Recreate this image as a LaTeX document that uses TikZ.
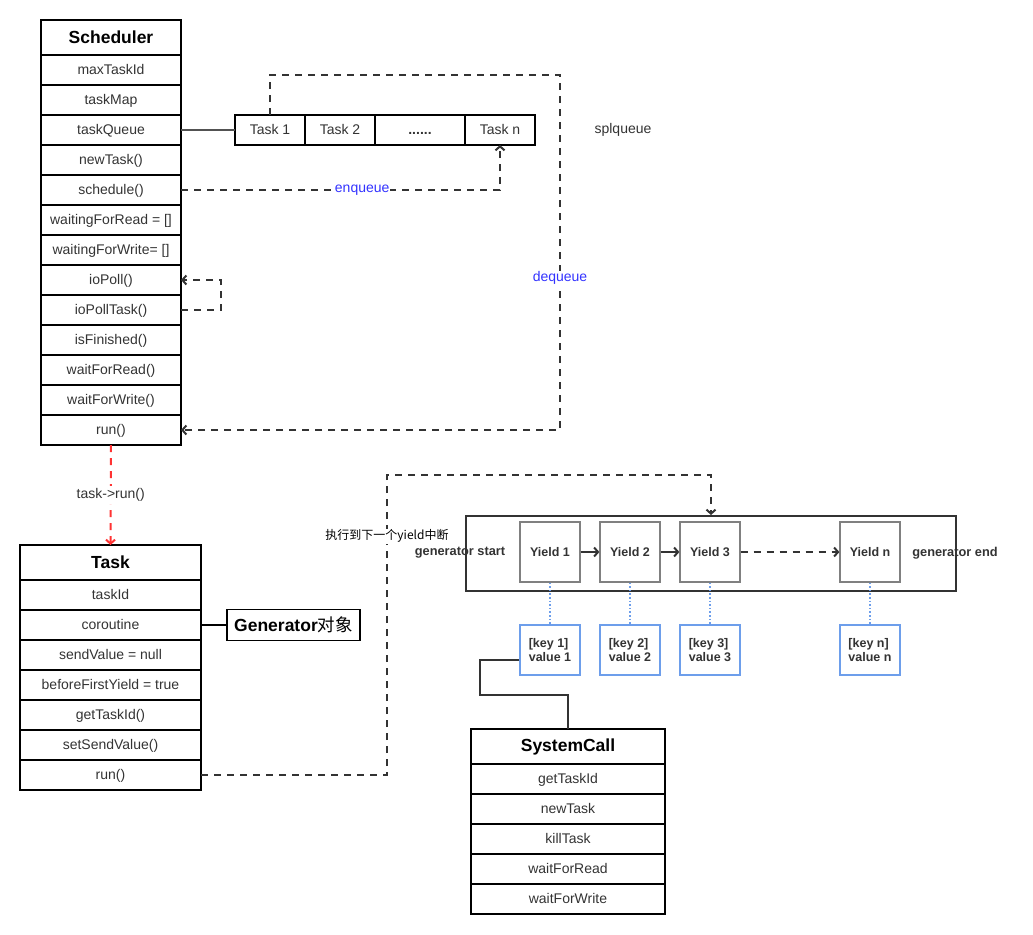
\documentclass[tikz,border=0pt]{standalone}
\usepackage{fontspec}
\setmainfont{Liberation Sans}
\newfontfamily\cjk{Noto Sans CJK SC}
\usetikzlibrary{arrows.meta, positioning}

\definecolor{linegray}{HTML}{333333}
\definecolor{textgray}{HTML}{333333}
\definecolor{keyblue}{HTML}{6D9EEB}
\definecolor{labelblue}{HTML}{3333FF}
\definecolor{runred}{HTML}{FF3333}

\begin{document}
\begin{tikzpicture}[
x=1pt, y=-1pt,
head/.style = {draw, line width=1.6pt, outer sep=0pt, minimum width=#1, minimum height=35pt, font=\fontsize{17.5}{20}\selectfont\bfseries},
row/.style = {draw, line width=1.6pt, outer sep=0pt, minimum width=#1, minimum height=30pt, text height=11pt, text depth=2pt, text=textgray, font=\fontsize{14}{16}\selectfont},
cell/.style = {draw, line width=1.6pt, outer sep=0pt, minimum width=#1, minimum height=30pt, text height=11pt, text depth=2pt, text=textgray, font=\fontsize{14}{16}\selectfont},
yieldbox/.style = {draw=gray, line width=1.2pt, minimum width=60pt, minimum height=60pt, text=textgray, font=\fontsize{12.5}{14}\selectfont\bfseries},
keybox/.style = {draw=keyblue, line width=1.2pt, minimum width=60pt, minimum height=50pt, align=left, text=textgray, font=\fontsize{12.5}{14}\selectfont\bfseries},
plain label/.style = {text=textgray, font=\fontsize{14}{16}\selectfont},
gen label/.style = {text=textgray, font=\fontsize{12.8}{15}\selectfont\bfseries},
flow/.style = {draw=linegray, line width=2pt, dash pattern=on 7pt off 6pt},
>={Straight Barb[length=4pt, width=9pt]},
]

\useasboundingbox (0,0) rectangle (1033,934);

\node (sch) [head=140pt, anchor=north west] at (41,20) {Scheduler};
\node (maxid) [row=140pt, below=0pt of sch] {maxTaskId};
\node (tmap) [row=140pt, below=0pt of maxid] {taskMap};
\node (tqueue) [row=140pt, below=0pt of tmap] {taskQueue};
\node (newt) [row=140pt, below=0pt of tqueue] {newTask()};
\node (sched) [row=140pt, below=0pt of newt] {schedule()};
\node (wread) [row=140pt, below=0pt of sched] {waitingForRead = []};
\node (wwrite) [row=140pt, below=0pt of wread] {waitingForWrite= []};
\node (iopoll) [row=140pt, below=0pt of wwrite] {ioPoll()};
\node (iopolltask) [row=140pt, below=0pt of iopoll] {ioPollTask()};
\node (isfin) [row=140pt, below=0pt of iopolltask] {isFinished()};
\node (wfr) [row=140pt, below=0pt of isfin] {waitForRead()};
\node (wfw) [row=140pt, below=0pt of wfr] {waitForWrite()};
\node (srun) [row=140pt, below=0pt of wfw] {run()};

\node (q1) [cell=70pt, anchor=north west] at (235,115) {Task 1};
\node (q2) [cell=70pt, right=0pt of q1] {Task 2};
\node (qdots) [cell=90pt, right=0pt of q2, font=\fontsize{14}{16}\selectfont\bfseries] {......};
\node (qn) [cell=70pt, right=0pt of qdots] {Task n};
\node (splq) [plain label] at (623,130) {splqueue};

\coordinate (dqcorner) at (560,75);

\draw[draw=linegray!85, line width=2.2pt] (tqueue.east) -- (q1.west);
\draw[flow, ->] (sched.east) -| node[pos=0.284, fill=white, text=labelblue, font=\fontsize{14}{16}\selectfont, inner sep=1pt]{enqueue} (qn.south);
\draw[flow, ->] (q1.north) |- (dqcorner) |- node[pos=0.286, fill=white, text=labelblue, font=\fontsize{14}{16}\selectfont, inner sep=1pt]{dequeue} (srun.east);
\draw[flow, ->] (iopolltask.east) -- ++(40,0) |- (iopoll.east);

\node (task) [head=181pt, anchor=north west] at (20,545) {Task};
\node (tid) [row=181pt, below=0pt of task] {taskId};
\node (coro) [row=181pt, below=0pt of tid] {coroutine};
\node (sendv) [row=181pt, below=0pt of coro] {sendValue = null};
\node (bfy) [row=181pt, below=0pt of sendv] {beforeFirstYield = true};
\node (gettid) [row=181pt, below=0pt of bfy] {getTaskId()};
\node (setsv) [row=181pt, below=0pt of gettid] {setSendValue()};
\node (trun) [row=181pt, below=0pt of setsv] {run()};

\draw[draw=runred, line width=2pt, dash pattern=on 7pt off 6pt, ->] (srun.south) -- node[fill=white, plain label, inner sep=2pt]{task->run()} (task.north);

\node (genobj) [draw, line width=1.6pt, outer sep=0pt, minimum width=133pt, minimum height=31pt, anchor=west, font=\fontsize{17.5}{20}\selectfont\bfseries] at (227,625) {Generator{\cjk\mdseries 对象}};
\draw[line width=1.6pt] (coro.east) -- (genobj.west);

\node (gen) [draw=linegray, line width=2pt, minimum width=490pt, minimum height=75pt, anchor=north west] at (465,515) {};
\node (gstart) [gen label] at (460,553) {generator start};
\node (gend) [gen label] at (955,553) {generator end};

\node (y1) [yieldbox] at (550,552) {Yield 1};
\node (y2) [yieldbox] at (630,552) {Yield 2};
\node (y3) [yieldbox] at (710,552) {Yield 3};
\node (yn) [yieldbox] at (870,552) {Yield n};

\draw[draw=linegray, line width=2pt, ->] (y1) -- (y2);
\draw[draw=linegray, line width=2pt, ->] (y2) -- (y3);
\draw[flow, ->] (y3) -- (yn);

\node (k1) [keybox] at (550,650) {[key 1]\\value 1};
\node (k2) [keybox] at (630,650) {[key 2]\\value 2};
\node (k3) [keybox] at (710,650) {[key 3]\\value 3};
\node (kn) [keybox] at (870,650) {[key n]\\value n};

\draw[keyblue, line width=1.6pt, dotted] (y1) -- (k1);
\draw[keyblue, line width=1.6pt, dotted] (y2) -- (k2);
\draw[keyblue, line width=1.6pt, dotted] (y3) -- (k3);
\draw[keyblue, line width=1.6pt, dotted] (yn) -- (kn);

\coordinate (genturn) at (387,475);
\draw[flow, ->] (trun.east) -| node[pos=0.898, fill=white, inner sep=1pt, font=\fontsize{12}{14}\selectfont\cjk]{执行到下一个yield中断} (genturn) -| (gen.north);

\node (sys) [head=194pt, anchor=north west] at (471,729) {SystemCall};
\node (sgettid) [row=194pt, below=0pt of sys] {getTaskId};
\node (snew) [row=194pt, below=0pt of sgettid] {newTask};
\node (skill) [row=194pt, below=0pt of snew] {killTask};
\node (swfr) [row=194pt, below=0pt of skill] {waitForRead};
\node (swfw) [row=194pt, below=0pt of swfr] {waitForWrite};

\coordinate (scbend) at (480,695);
\draw[draw=linegray, line width=2pt] (k1.198) -| (scbend) -| (sys.north);

\end{tikzpicture}
\end{document}
